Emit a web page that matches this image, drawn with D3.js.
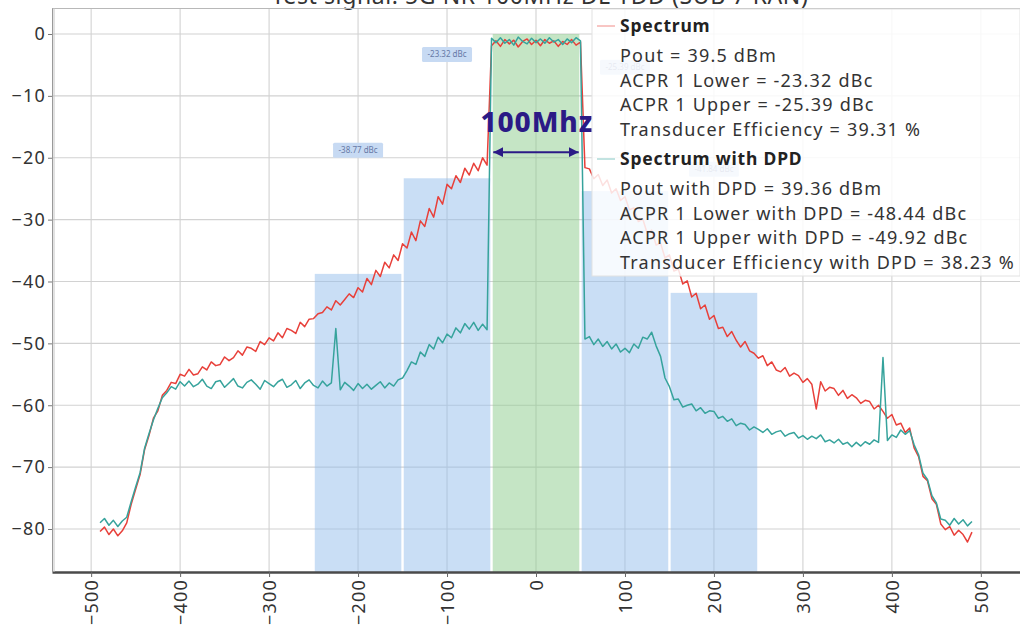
<!DOCTYPE html>
<html><head><meta charset="utf-8">
<script src="https://cdn.jsdelivr.net/npm/d3@7"></script>
<style>
html,body{margin:0;padding:0;background:#fff;overflow:hidden}
svg{display:block;font-family:"Noto Sans",sans-serif}
</style></head><body>
<svg id="c" width="1020" height="625"></svg>
<script>
// ---------------- DATA ----------------
const chartTitle = "Test signal: 5G NR 100MHz DL TDD (SUB 7 RAN)";
const xTickValues = [-500,-400,-300,-200,-100,0,100,200,300,400,500];
const yTickValues = [0,-10,-20,-30,-40,-50,-60,-70,-80];
const freqStart = -490, freqStep = 5; // MHz, one value per step
const spectrum = [
 -80.4,-79.7,-80.9,-80.0,-81.1,-80.3,-79.0,-76.0,-73.6,-71.2,
 -67.2,-64.9,-62.1,-60.9,-58.4,-57.6,-56.3,-56.5,-55.0,-55.3,
 -54.2,-55.1,-54.9,-53.8,-54.3,-53.0,-53.6,-53.4,-52.2,-52.8,
 -52.3,-51.2,-51.9,-50.6,-50.8,-51.3,-49.7,-50.2,-49.1,-49.6,
 -48.3,-49.1,-47.6,-47.9,-48.4,-46.6,-47.3,-46.1,-46.0,-45.2,
 -45.0,-44.1,-44.6,-43.1,-43.8,-42.9,-42.0,-42.6,-41.0,-41.7,
 -39.5,-40.5,-38.2,-39.2,-36.9,-37.8,-35.7,-36.6,-33.9,-34.6,
 -32.0,-33.4,-30.2,-31.1,-28.2,-29.6,-26.3,-27.5,-24.3,-25.0,
 -22.9,-24.0,-21.7,-22.8,-20.9,-22.1,-20.0,-21.2,-1.9,-1.1,
 -2.0,-0.9,-1.6,-1.0,-2.1,-1.2,-0.8,-1.7,-1.0,-1.9,
 -0.9,-1.5,-1.1,-2.0,-1.2,-1.7,-0.9,-1.8,-1.3,-21.6,
 -21.8,-23.4,-22.7,-24.5,-23.6,-25.7,-25.0,-26.9,-26.3,-28.4,
 -28.1,-30.3,-29.9,-32.2,-31.7,-34.1,-33.8,-36.2,-35.7,-38.3,
 -38.0,-40.4,-39.9,-42.5,-41.9,-44.4,-43.8,-46.1,-45.5,-47.6,
 -47.4,-48.9,-48.1,-49.5,-50.6,-49.7,-51.2,-51.6,-52.4,-52.0,
 -53.6,-53.0,-54.3,-54.6,-53.9,-55.3,-54.8,-55.2,-56.3,-55.7,
 -56.6,-60.6,-56.2,-57.7,-57.1,-57.3,-58.4,-57.6,-58.9,-58.3,
 -58.8,-59.7,-59.2,-59.4,-60.6,-60.0,-61.0,-62.1,-61.5,-63.2,
 -62.9,-64.4,-63.7,-66.9,-68.3,-71.5,-72.2,-75.1,-76.0,-79.2,
 -80.1,-79.6,-81.0,-80.2,-80.9,-82.1,-80.5
];
const spectrumDPD = [
 -79.0,-78.3,-79.4,-78.6,-79.6,-78.7,-78.1,-75.6,-73.2,-70.9,
 -67.0,-64.6,-62.4,-60.5,-58.8,-58.0,-57.0,-57.4,-56.2,-56.9,
 -56.1,-57.0,-56.6,-55.8,-56.9,-57.3,-56.2,-56.0,-57.1,-56.4,
 -55.7,-56.9,-57.2,-56.3,-55.9,-56.6,-57.4,-56.0,-56.5,-57.0,
 -56.2,-55.8,-57.1,-56.7,-56.0,-57.3,-56.4,-55.9,-56.8,-57.2,
 -56.1,-56.9,-56.4,-47.6,-57.5,-56.3,-56.9,-57.6,-56.5,-57.3,
 -56.6,-57.4,-56.8,-56.2,-57.2,-56.4,-56.9,-55.9,-55.6,-54.4,
 -53.0,-53.4,-51.4,-52.1,-50.2,-50.9,-49.0,-49.9,-48.5,-49.1,
 -47.5,-48.3,-46.8,-47.7,-46.6,-47.9,-46.9,-47.8,-0.7,-1.4,
 -0.6,-1.5,-0.9,-1.8,-0.5,-1.2,-1.6,-0.7,-1.4,-0.8,
 -1.5,-0.6,-1.3,-0.9,-1.7,-0.8,-1.4,-0.6,-1.1,-49.3,
 -48.9,-50.2,-49.3,-50.5,-49.7,-50.9,-50.1,-51.4,-50.8,-51.5,
 -50.1,-50.8,-49.0,-49.3,-48.2,-50.4,-52.1,-55.6,-57.0,-59.1,
 -59.0,-60.3,-60.0,-59.8,-60.9,-60.4,-61.3,-60.9,-61.0,-62.1,
 -61.8,-62.6,-62.2,-63.3,-62.9,-63.1,-64.0,-63.5,-63.9,-64.4,
 -63.8,-64.7,-64.3,-64.1,-65.0,-64.6,-64.4,-65.3,-64.9,-65.5,
 -65.0,-65.4,-64.8,-65.9,-65.6,-66.1,-65.5,-66.3,-66.0,-66.7,
 -66.0,-66.6,-65.9,-66.3,-65.6,-66.0,-52.3,-65.7,-64.8,-65.2,
 -64.0,-64.7,-64.1,-66.4,-68.0,-71.0,-72.0,-74.6,-75.8,-78.4,
 -78.6,-79.4,-78.3,-79.2,-78.5,-79.5,-78.8
];
const bandLower = [-250,-150,-50,50,150];
const bandUpper = [-150,-50,50,150,250];
const bandLevel = [-38.77,-23.32,0,-25.39,-41.84];
const bandLabel = ["-38.77 dBc","-23.32 dBc","","-25.39 dBc","-41.84 dBc"];
const bandIsMain = [false,false,true,false,false];
const legendSeries = ["Spectrum","Spectrum with DPD"];
const legendLines = [
  ["Pout = 39.5 dBm","ACPR 1 Lower = -23.32 dBc","ACPR 1 Upper = -25.39 dBc","Transducer Efficiency = 39.31 %"],
  ["Pout with DPD = 39.36 dBm","ACPR 1 Lower with DPD = -48.44 dBc","ACPR 1 Upper with DPD = -49.92 dBc","Transducer Efficiency with DPD = 38.23 %"]
];
const bwLabel = "100Mhz";
const bwSpan = [-48, 48];

// ---------------- DRAW ----------------
const svg = d3.select("#c");
const RED = "#e8403a", TEAL = "#36a39c", INK = "#2b1a86";
const x = d3.scaleLinear().domain([-544,544]).range([52,1020]);
const y = d3.scaleLinear().domain([-86.95,4.2]).range([572,8]);
const freqs = spectrum.map((_,i)=>freqStart+i*freqStep);

// title (clipped at top)
svg.append("text").attr("x",540).attr("y",4).attr("text-anchor","middle")
  .attr("font-size",23).attr("fill","#333").attr("letter-spacing",0.6).text(chartTitle);

// grid
const grid = svg.append("g");
grid.selectAll("line.v").data(xTickValues).join("line")
  .attr("x1",d=>x(d)).attr("x2",d=>x(d)).attr("y1",y.range()[1]).attr("y2",y.range()[0])
  .attr("stroke","#d2d2d2").attr("stroke-width",1.1);
grid.selectAll("line.h").data(yTickValues).join("line")
  .attr("x1",x.range()[0]).attr("x2",x.range()[1]).attr("y1",d=>y(d)).attr("y2",d=>y(d))
  .attr("stroke","#d2d2d2").attr("stroke-width",1.1);
svg.append("line").attr("x1",x.range()[0]).attr("x2",x.range()[1]).attr("y1",8.5).attr("y2",8.5)
  .attr("stroke","#b8b8b8");

// bands
const bands = bandLower.map((l,i)=>({l,u:bandUpper[i],v:bandLevel[i],lab:bandLabel[i],main:bandIsMain[i]}));
svg.append("g").selectAll("rect").data(bands).join("rect")
  .attr("x",d=>x(d.l)+1.2).attr("width",d=>x(d.u)-x(d.l)-2.4)
  .attr("y",d=>y(d.v)).attr("height",d=>y.range()[0]-y(d.v))
  .attr("fill",d=>d.main?"rgb(140,204,140)":"rgb(148,189,236)")
  .attr("fill-opacity",0.5);

// band labels
const lab = svg.append("g").selectAll("g").data(bands.filter(d=>d.lab)).join("g")
  .attr("transform",d=>`translate(${x((d.l+d.u)/2)},${y(d.v+20)})`);
lab.append("rect").attr("x",-25).attr("y",-7.5).attr("width",50).attr("height",15).attr("rx",1.5)
  .attr("fill","#c7daf3");
lab.append("text").attr("text-anchor","middle").attr("dy","0.33em").attr("font-size",8)
  .attr("fill","#6679a6").text(d=>d.lab);

// traces
const line = d3.line().x((d,i)=>x(freqs[i])).y(d=>y(d));
svg.append("path").datum(spectrum).attr("d",line).attr("fill","none")
  .attr("stroke",RED).attr("stroke-width",1.5).attr("stroke-linejoin","round");
svg.append("path").datum(spectrumDPD).attr("d",line).attr("fill","none")
  .attr("stroke",TEAL).attr("stroke-width",1.5).attr("stroke-linejoin","round");

// axes
const xAxis = svg.append("g").attr("transform",`translate(0,${y.range()[0]})`)
  .call(d3.axisBottom(x).tickValues(xTickValues).tickSize(5).tickSizeOuter(0).tickFormat(d3.format("d")));
xAxis.select(".domain").attr("stroke","#4a4a4a").attr("stroke-width",2.5);
xAxis.selectAll(".tick line").attr("stroke","#666");
xAxis.selectAll(".tick text").attr("font-size",18).attr("fill","#333").attr("font-family","Noto Sans")
  .attr("letter-spacing",1.2)
  .attr("transform","rotate(-90)").attr("text-anchor","end").attr("x",-7).attr("y",0).attr("dy","0.35em");

const yAxis = svg.append("g").attr("transform",`translate(${x.range()[0]},0)`)
  .call(d3.axisLeft(y).tickValues(yTickValues).tickSize(4).tickSizeOuter(0).tickFormat(d3.format("d")));
yAxis.select(".domain").attr("stroke","#999").attr("stroke-width",1);
yAxis.selectAll(".tick line").attr("stroke","#777");
yAxis.selectAll(".tick text").attr("font-size",18).attr("fill","#333").attr("font-family","Noto Sans")
  .attr("letter-spacing",1.2).attr("x",-6);
svg.append("line").attr("x1",x.range()[0]+2).attr("x2",x.range()[0]+2)
  .attr("y1",y.range()[1]).attr("y2",y.range()[0]).attr("stroke","#c4c4c4");

// bandwidth annotation
const defs = svg.append("defs");
["s","e"].forEach(k=>{
  defs.append("marker").attr("id","ah"+k).attr("viewBox","0 0 10 10").attr("refX",k==="e"?10:0).attr("refY",5)
    .attr("markerWidth",5).attr("markerHeight",5).attr("orient","auto")
    .append("path").attr("d",k==="e"?"M0,0L10,5L0,10Z":"M10,0L0,5L10,10Z").attr("fill",INK);
});
svg.append("line").attr("x1",x(bwSpan[0])).attr("x2",x(bwSpan[1])).attr("y1",y(-19.1)).attr("y2",y(-19.1))
  .attr("stroke",INK).attr("stroke-width",2).attr("marker-start","url(#ahs)").attr("marker-end","url(#ahe)");
svg.append("text").attr("x",x(0)+1).attr("y",y(-15.8)).attr("text-anchor","middle")
  .attr("font-size",28).attr("font-weight",800).attr("letter-spacing",0.9).attr("fill",INK).text(bwLabel);

// legend
const lg = svg.append("g");
lg.append("rect").attr("x",592).attr("y",9).attr("width",428).attr("height",267)
  .attr("fill","#fff").attr("fill-opacity",0.84).attr("stroke","#e2e2e2");
const lineH = 24.5;
legendSeries.forEach((name,si)=>{
  const y0 = si===0 ? 32 : 165;
  lg.append("line").attr("x1",597).attr("x2",615).attr("y1",y0-6).attr("y2",y0-6)
    .attr("stroke",si===0?RED:TEAL).attr("stroke-width",1).attr("stroke-opacity",0.6);
  lg.append("text").attr("x",620).attr("y",y0).attr("font-size",17.5).attr("font-weight",700)
    .attr("fill","#222").attr("letter-spacing",0.8).text(name);
  legendLines[si].forEach((t,j)=>{
    lg.append("text").attr("x",620).attr("y",y0+30+j*lineH).attr("font-size",18)
      .attr("fill","#333").attr("letter-spacing",1.2).text(t);
  });
});
</script>
</body></html>
